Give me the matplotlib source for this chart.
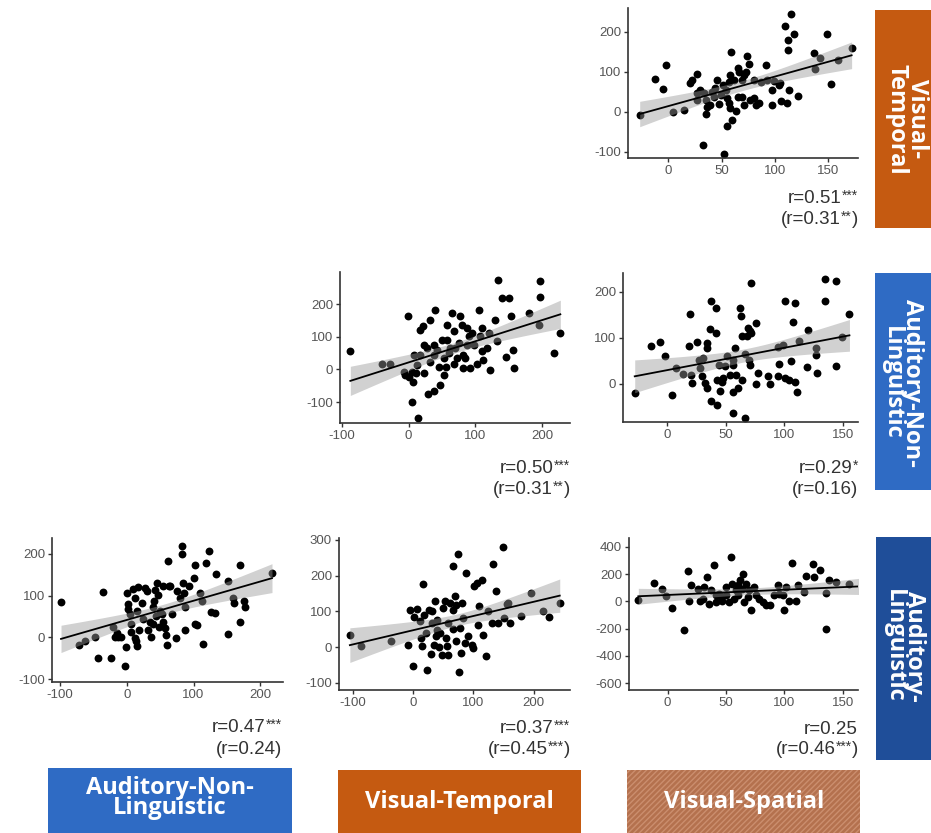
import numpy as np
import matplotlib
matplotlib.use("Agg")
import matplotlib.pyplot as plt
from matplotlib.patches import Rectangle

plt.rcParams['axes.unicode_minus'] = False
plt.rcParams['font.family'] = ['Liberation Sans', 'DejaVu Sans']

# ---------------- data (x, y) per panel ----------------
vs_vt = [(-27, -8), (-13, 82), (-5, 58), (-2, 118), (4, 0), (15, 4), (22, 80), (27, 95), (20, 72),
         (32.5, -83), (35, -6), (52, -105), (55, -35), (60, -21), (59, 150), (74, 140), (76, 120),
         (92, 118), (109, 215), (115, 244), (118, 195), (112, 180), (112, 154), (113, 55), (122, 40),
         (137, 148), (138, 108), (149, 195), (153, 70), (172, 160), (142, 135), (159, 130), (99, 77),
         (97, 55), (97, 18), (106, 28), (111, 22), (104, 68), (80, 34), (82, 17), (85, 22), (87, 74),
         (71, 17), (69, 38), (65, 110), (66, 101), (73, 101), (71, 93), (69, 80), (62, 80), (58, 93),
         (57, 76), (54, 55), (55, 34), (57, 22), (58, 10), (63, 3), (65, 38), (46, 80), (44, 59),
         (43, 38), (39, 17), (35, 30), (33, 47), (30, 55), (27, 47), (36, 13), (49, 42), (51, 68),
         (41, 50), (47, 20), (27, 30), (80, 80), (77, 30), (93, 80), (105, 72)]

vt_anl = [(-87.5, 57), (-40, 16), (-27.5, 16), (-1, 162), (-6.5, -7), (-5, -17), (0, -23), (5, -7),
          (6.5, -38), (5, -100), (14, -149), (11.5, -12), (7.5, 44), (17.5, 44), (17.5, 121),
          (21.5, 134), (22.5, 75), (23.5, -12), (28.5, -74), (32.5, 152), (38.5, -67), (40, 183),
          (37.5, 44), (38.5, 75), (42.5, 60), (45, 8), (47.5, -48), (50, 90), (52.5, 34), (53.5, -17),
          (57.5, 90), (56.5, 8), (60, 49), (65, 173), (67.5, 18), (70, 65), (75, 80), (76.5, 162),
          (80, 137), (81.5, 44), (81.5, 3), (85, 34), (87.5, 126), (90, 101), (92.5, 3), (95, 111),
          (97.5, 75), (105, 183), (110, 126), (107.5, 101), (110, 55), (111.5, 29), (117.5, 65),
          (120, 111), (121.5, -2), (130, 152), (132.5, 87), (133.5, 272), (140, 219), (146.5, 39),
          (150, 217), (154, 162), (156.5, 60), (157.5, 5), (180, 173), (195, 137), (196.5, 221),
          (196.5, 270), (218.5, 49), (227.5, 111), (62.5, 65), (67.5, 116), (72.5, 34), (87.5, 75),
          (32.5, 24), (27.5, 65), (12.5, 13), (57.5, 137), (102.5, 18)]

vs_anl = [(-27.5, -19), (-13.3, 83), (-6.2, 90), (-2, 60), (4.2, -24), (8, 34), (14, 21), (19, 83),
          (19.8, 152), (20.7, 20), (21, 1.5), (26, 90), (27, 52), (28, 34), (30, 16), (31, 56),
          (32.5, 1.5), (34, 89), (34.5, 79), (34, -9), (37, 119), (38, 180), (38, -37), (41.6, 165),
          (41.6, 110), (42.5, -46), (42.5, 9), (44, 41), (45, -15), (46.7, 5), (48, 12), (49.5, 38),
          (51, 60), (53.8, 20), (56, 52), (56.6, -17), (56.6, -64), (58, 78), (56.6, 41), (59, 20),
          (61, -9), (62, 165), (63, 147), (63.7, 103), (63.7, 9), (66.5, -75), (67, 65), (68, 103),
          (69, 121), (70.8, 114), (72, 110), (72, 220), (70, 52), (70.8, 41), (76.4, 132),
          (76.4, -1), (77.8, 23), (85.8, 16), (87.7, -1), (94.8, 81), (94.8, 16), (95.7, 44),
          (100.5, 181), (101, 12), (104, 9), (106, 49), (107.5, 135), (109, 176), (109, 5),
          (111, -18), (112.6, 94), (119.4, 36), (120, 118), (127, 78), (127, 63), (128, 23),
          (134.5, 181), (134.5, 227), (144, 38), (144, 223), (149.4, 101), (155.7, 152), (99, 85)]

anl_al = [(-98.5, 85), (-71.5, -17), (-62.5, -9), (-47.5, 0), (-43.5, -50), (-36, 108), (-23.5, -50),
          (-20, 25), (-17.5, 2), (-15, 10), (-12.5, 1), (-9, 1), (-2.5, -67), (-1, -22), (1, 105),
          (2.5, 79), (2.5, 69), (5, 56), (6, 32), (6.5, 14), (10, 115), (12.5, 95), (12.5, -2),
          (14, -9), (15, -21), (16, 64), (17.5, 120), (19, 18), (22.5, 81), (25, 45), (27.5, 119),
          (30, 110), (32.5, 18), (35, 37), (36.5, 2), (39, 33), (40, 72), (41.5, 88), (42.5, 114),
          (44, 52), (45, 129), (47.5, 102), (49, 25), (50, 64), (52.5, 56), (54, 122), (55, 37),
          (57.5, 22), (58.5, 6), (60, -17), (61.5, 183), (62.5, 122), (65, 122), (67.5, 56),
          (74, -2), (75, 110), (80, 95), (82.5, 218), (82.5, 198), (84, 129), (85, 106), (87.5, 72),
          (87.5, 18), (92.5, 122), (100, 141), (101.5, 172), (102.5, 33), (105, 29), (110, 106),
          (112.5, 87), (113.5, -15), (119, 177), (122.5, 206), (126.5, 60), (132.5, 58), (134, 151),
          (151.5, 135), (151.5, 8), (158.5, 95), (160, 83), (169, 173), (169, 37), (175, 88),
          (177.5, 72), (217.5, 154)]

vt_al = [(-105, 33), (-86, 4), (-36, 18), (-9, 7), (-5, 105), (0.5, -52), (2, 84), (6, 106),
         (10.5, 72), (12.7, 26), (14, 4), (17, 177), (18, 91), (21.5, 40), (22.6, -65), (27, 105),
         (29, -18), (31, 67), (35, 7), (36, 128), (38, 30), (40, 77), (42, 0), (44.7, 40), (47, -21),
         (50, 109), (53, 128), (54.6, 26), (55.7, 2), (57, -21), (58.5, 67), (61, 123), (65.6, 51),
         (66.7, 226), (69.5, 142), (70.6, 16), (75, 261), (76, -70), (77.8, 54), (79.4, -16),
         (80.5, 123), (82, 81), (86, 12), (87.7, 207), (91.5, 32), (97, 7), (98.7, -2), (101.5, 170),
         (105, 179), (108, 63), (109.8, 114), (113.6, 188), (116, 35), (120.8, -24), (124.7, 100),
         (130, 67), (133, 233), (138, 156), (141, 67), (149.5, 281), (151, 81), (155, 121),
         (157.7, 123), (160.5, 67), (178, 88), (194.7, 151), (215.7, 102), (225.6, 84), (243, 123),
         (31, 100), (66.7, 105), (71, 119), (39, 49)]

vs_al = [(-25, 12), (-11.4, 135), (-5, 88), (-1.4, 39), (3.7, -49), (13.7, -208), (17.7, 223),
         (18.6, 7), (20, 122), (25.7, 93), (28, 7), (30, 20), (31.4, 105), (34, 179), (35.7, -17),
         (37, 81), (40, 265), (41.4, -5), (44, 56), (45.7, 32), (47, 7), (50, 44), (52.3, -5),
         (54, 326), (55, 130), (57, 20), (58.6, 81), (60, 44), (62, 154), (64.3, 203), (63.7, 93),
         (65.7, -5), (67, 130), (68.6, 32), (71.4, -66), (74.3, 105), (75.7, 44), (78, 20),
         (81.4, -5), (84.3, -29), (88, -29), (91.4, 44), (94.3, 118), (95, 56), (98.6, 44),
         (100, -66), (101.4, 105), (104, 7), (106.6, 282), (110, 7), (111.4, 118), (117, 69),
         (118.6, 184), (124.3, 277), (125.7, 179), (130.6, 233), (135.7, 61), (135.7, -201),
         (138.6, 154), (144.3, 142), (155.7, 130), (50, 105), (60, 118), (70, 81), (41.4, 44),
         (168, 120)]

# correlation annotations: (main, stars, closing) for line 1 and line 2
r_labels = {
    'vs_vt':  [("r=0.51", "***", ""), ("(r=0.31", "**", ")")],
    'vt_anl': [("r=0.50", "***", ""), ("(r=0.31", "**", ")")],
    'vs_anl': [("r=0.29", "*", ""), ("(r=0.16)", "", "")],
    'anl_al': [("r=0.47", "***", ""), ("(r=0.24)", "", "")],
    'vt_al':  [("r=0.37", "***", ""), ("(r=0.45", "***", ")")],
    'vs_al':  [("r=0.25", "", ""), ("(r=0.46", "***", ")")],
}

row_labels = ["Visual-\nTemporal", "Auditory-Non-\nLinguistic", "Auditory-\nLinguistic"]
col_labels = ["Auditory-Non-\nLinguistic", "Visual-Temporal", "Visual-Spatial"]

# ---------------- figure ----------------
W, H = 931, 833
fig = plt.figure(figsize=(W / 100, H / 100), dpi=100)
renderer = fig.canvas.get_renderer()


def fx(px):
    return px / W


def fy(py):
    return 1 - py / H


def panel(box, pts, xlim, ylim, xticks, yticks):
    l, t, r, b = box
    ax = fig.add_axes([fx(l), fy(b), (r - l) / W, (b - t) / H])
    x = np.array([p[0] for p in pts], float)
    y = np.array([p[1] for p in pts], float)
    n = len(x)
    slope, icpt = np.polyfit(x, y, 1)
    xs = np.linspace(x.min(), x.max(), 100)
    yh = icpt + slope * xs
    res = y - (icpt + slope * x)
    s = np.sqrt(np.sum(res ** 2) / (n - 2))
    sxx = np.sum((x - x.mean()) ** 2)
    se = s * np.sqrt(1 / n + (xs - x.mean()) ** 2 / sxx)
    ax.scatter(x, y, s=32, color='black', lw=0, zorder=1)
    ax.fill_between(xs, yh - 1.99 * se, yh + 1.99 * se, color='#999999', alpha=0.45, lw=0, zorder=2)
    ax.plot(xs, yh, color='black', lw=1.3, zorder=3)
    ax.set_xlim(*xlim)
    ax.set_ylim(*ylim)
    ax.set_xticks(xticks)
    ax.set_yticks(yticks)
    for sp in ['top', 'right']:
        ax.spines[sp].set_visible(False)
    for sp in ['left', 'bottom']:
        ax.spines[sp].set_color('#333333')
        ax.spines[sp].set_linewidth(1.2)
    ax.tick_params(direction='out', length=3, width=1, color='#333333',
                   labelsize=9.5, labelcolor='#555555', pad=2)
    ax.set_facecolor('none')
    return ax


def rich_right(xr, ybase, parts):
    cur = xr
    for txt, sup in reversed(parts):
        if not txt:
            continue
        fs = 10 if sup else 13.5
        dy = 3 if sup else 0
        t = fig.text(fx(cur), fy(ybase - dy), txt, ha='right', va='baseline',
                     fontsize=fs, color='#333333')
        bb = t.get_window_extent(renderer)
        cur -= bb.width


def annotate(key, xr, y1, y2):
    (m1, s1, e1), (m2, s2, e2) = r_labels[key]
    rich_right(xr, y1 + 6, [(m1, False), (s1, True), (e1, False)])
    rich_right(xr, y2 + 6, [(m2, False), (s2, True), (e2, False)])


panel((628, 8, 858, 158), vs_vt, (-38, 178), (-115, 260), [0, 50, 100, 150], [-100, 0, 100, 200])
annotate('vs_vt', 858, 197, 218)

panel((340, 272, 570, 423), vt_anl, (-103, 242), (-164, 298), [-100, 0, 100, 200], [-100, 0, 100, 200])
annotate('vt_anl', 570, 467, 488)

panel((623, 273, 858, 422), vs_anl, (-37.5, 163), (-83, 241), [0, 50, 100, 150], [0, 100, 200])
annotate('vs_anl', 858, 467, 488)

panel((52, 538, 283, 682), anl_al, (-112, 234), (-106, 237), [-100, 0, 100, 200], [-100, 0, 100, 200])
annotate('anl_al', 282, 726, 748)

panel((339, 538, 570, 690), vt_al, (-123, 260), (-120, 305), [-100, 0, 100, 200],
      [-100, 0, 100, 200, 300])
annotate('vt_al', 570, 727, 748)

panel((629, 538, 858, 690), vs_al, (-33, 163), (-650, 466), [0, 50, 100, 150],
      [-600, -400, -200, 0, 200, 400])
annotate('vs_al', 858, 728, 748)

# ---------------- row label boxes (right) ----------------
row_boxes = [(875, 10, 940, 228, '#C55A11', 907, 119),
             (875, 273, 940, 490, '#2F6BC4', 902, 383),
             (876, 537, 940, 760, '#1F4E99', 904, 646)]
for (l, t, r, b, col, tx, ty), lab in zip(row_boxes, row_labels):
    fig.patches.append(Rectangle((fx(l), fy(b)), (r - l) / W, (b - t) / H,
                                 transform=fig.transFigure, facecolor=col, lw=0, zorder=0))
    fig.text(fx(tx), fy(ty), lab, rotation=270, ha='center', va='center', color='white',
             fontsize=17, fontweight='bold', family=['Open Sans', 'DejaVu Sans'],
             linespacing=0.8, multialignment='center')

# ---------------- column label boxes (bottom) ----------------
col_boxes = [(48, 768, 292, 840, '#2F6BC4', None, 170, 798),
             (338, 770, 581, 840, '#C55A11', None, 459, 802),
             (627, 770, 860, 840, '#B4714E', '#CB8E6E', 744, 802)]
for (l, t, r, b, col, hcol, tx, ty), lab in zip(col_boxes, col_labels):
    if hcol is None:
        rect = Rectangle((fx(l), fy(b)), (r - l) / W, (b - t) / H, transform=fig.transFigure,
                         facecolor=col, lw=0, zorder=0)
    else:
        rect = Rectangle((fx(l), fy(b)), (r - l) / W, (b - t) / H, transform=fig.transFigure,
                         facecolor=col, edgecolor=hcol, hatch='//////', lw=0, zorder=0)
    fig.patches.append(rect)
    fig.text(fx(tx), fy(ty), lab, ha='center', va='center', color='white',
             fontsize=17, fontweight='bold', family=['Open Sans', 'DejaVu Sans'],
             linespacing=0.8, multialignment='center')

fig.savefig('out.png', dpi=100, facecolor='white')
